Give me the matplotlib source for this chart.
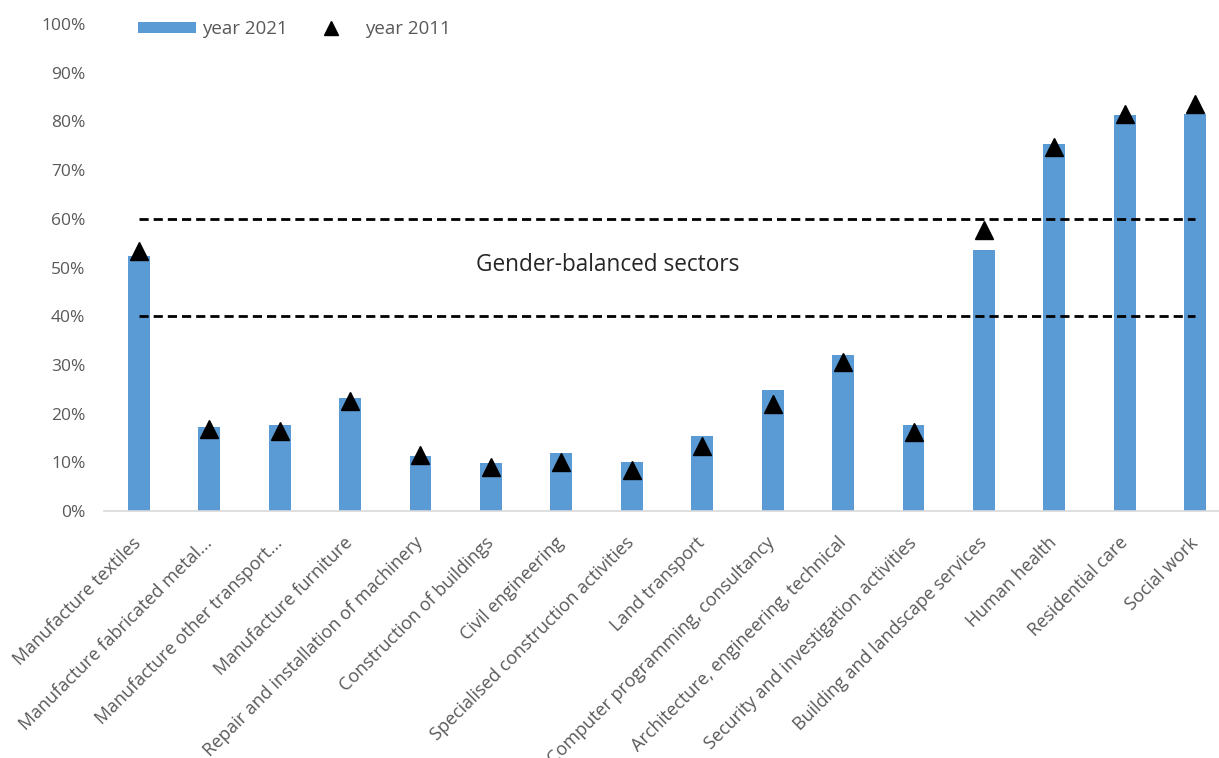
import matplotlib
matplotlib.use("Agg")
import matplotlib.pyplot as plt
from matplotlib.patches import Patch
from matplotlib.lines import Line2D
from matplotlib.ticker import PercentFormatter
import numpy as np

categories = [
    "Manufacture textiles",
    "Manufacture fabricated metal...",
    "Manufacture other transport...",
    "Manufacture furniture",
    "Repair and installation of machinery",
    "Construction of buildings",
    "Civil engineering",
    "Specialised construction activities",
    "Land transport",
    "Computer programming, consultancy",
    "Architecture, engineering, technical",
    "Security and investigation activities",
    "Building and landscape services",
    "Human health",
    "Residential care",
    "Social work",
]
year_2021 = [52.4, 17.3, 17.7, 23.2, 11.2, 9.8, 12.0, 10.1, 15.3, 24.8, 32.0, 17.7, 53.5, 75.3, 81.3, 81.5]
year_2011 = [53.3, 16.8, 16.5, 22.6, 11.5, 9.0, 10.0, 8.4, 13.3, 22.0, 30.5, 16.3, 57.6, 74.7, 81.5, 83.5]
balanced_low = 40
balanced_high = 60
y_ticks = list(range(0, 101, 10))

plt.rcParams['font.family'] = ['Open Sans', 'DejaVu Sans']

W, H = 1219, 758
fig = plt.figure(figsize=(W / 100, H / 100), dpi=100)
left_px, right_px = 103.5, 1230.5
bottom_px, top_px = 511, 24
ax = fig.add_axes([left_px / W, (H - bottom_px) / H,
                   (right_px - left_px) / W, (bottom_px - top_px) / H])

blue = "#5B9BD5"
gray = "#595959"
x = np.arange(len(categories))

ax.bar(x, year_2021, width=0.31, color=blue, zorder=2)
ax.plot(x, year_2011, linestyle="none", marker="^", markersize=13.5,
        color="black", zorder=4)

for lvl in (balanced_low, balanced_high):
    ax.plot([x[0], x[-1]], [lvl, lvl], color="black", lw=2.0,
            dashes=(3.3, 1.8), zorder=3)

ax.text(6.66, 50.6, "Gender-balanced sectors", ha="center", va="center",
        fontsize=16.3, color="#262626", zorder=5)

ax.set_xlim(-0.5, len(categories) - 0.5)
ax.set_ylim(0, 100)
ax.set_yticks(y_ticks)
ax.yaxis.set_major_formatter(PercentFormatter(100, decimals=0))
ax.tick_params(axis="y", length=0, pad=13, labelsize=12.5, labelcolor=gray)
ax.set_xticks(x)
ax.set_xticklabels(categories, rotation=45, ha="right", va="center",
                   rotation_mode="anchor", fontsize=13, color=gray)
ax.tick_params(axis="x", length=0, pad=21)

for s in ("top", "right", "left"):
    ax.spines[s].set_visible(False)
ax.spines["bottom"].set_color("#D9D9D9")
ax.spines["bottom"].set_linewidth(1.2)

handles = [
    Patch(facecolor=blue, edgecolor="none", label="year 2021"),
    Line2D([], [], linestyle="none", marker="^", markersize=10,
           color="black", label="year 2011"),
]
fig.legend(handles=handles, loc="center left",
           bbox_to_anchor=(138 / W, 1 - 29 / H), ncol=2, frameon=False,
           fontsize=13.5, labelcolor=gray, handlelength=3.1, handleheight=0.55,
           handletextpad=0.3, columnspacing=0.75, borderpad=0, borderaxespad=0)

fig.savefig("out.png", dpi=100)
